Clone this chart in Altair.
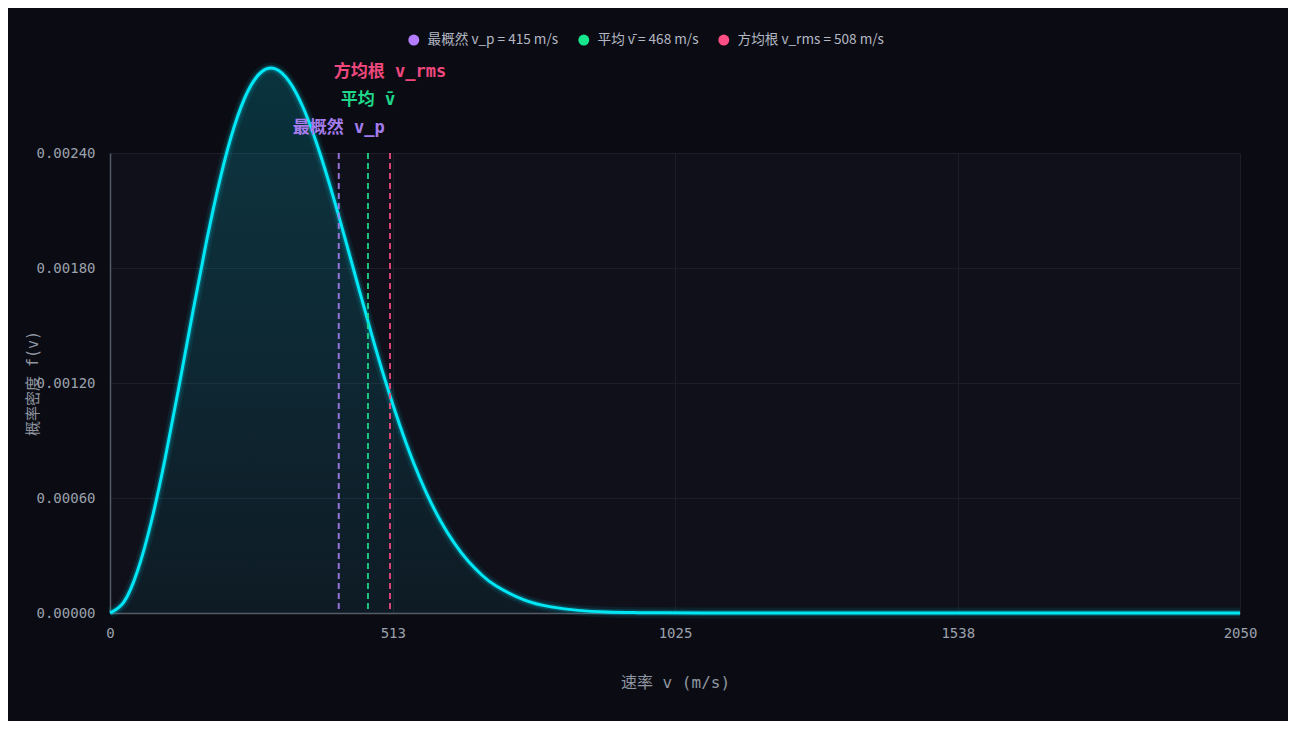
import altair as alt
import pandas as pd

# Curve: speed (m/s) and probability density f(v)
speed = [0, 25, 50, 75, 100, 125, 150, 175, 200, 225, 250, 275, 300, 325, 350,
         375, 400, 425, 450, 475, 500, 525, 550, 575, 600, 625, 650, 675, 700,
         750, 800, 850, 900, 950, 1000, 1100, 1200, 1300, 1400, 1500, 1600,
         1700, 1800, 1900, 2000, 2050]
density = [0.0, 0.0000562, 0.0002201, 0.0004773, 0.0008062, 0.001179, 0.001566,
           0.001938, 0.002268, 0.002534, 0.002722, 0.002824, 0.002839, 0.002774,
           0.002640, 0.002450, 0.002221, 0.001969, 0.001708, 0.001450, 0.001207,
           0.000986, 0.000789, 0.000620, 0.000479, 0.000363, 0.000270, 0.000197,
           0.000142, 0.0000696, 0.0000319, 0.0000137, 0.0000055, 0.0000021,
           0.0000007, 0.0, 0.0, 0.0, 0.0, 0.0, 0.0, 0.0, 0.0, 0.0, 0.0, 0.0]

# Characteristic speeds
line_values = [415, 468, 508]
legend_labels = ["最概然 v_p = 415 m/s", "平均 v\u0304 = 468 m/s", "方均根 v_rms = 508 m/s"]
annot_texts = ["最概然 v_p", "平均 v\u0304", "方均根 v_rms"]
line_colors = ["#a47cec", "#1fd88a", "#f0487e"]
legend_colors = ["#b47cff", "#16e68e", "#ff4d86"]

x_ticks = [0, 513, 1025, 1538, 2050]
y_ticks = [0.0, 0.0006, 0.0012, 0.0018, 0.0024]

curve = pd.DataFrame({"v": speed, "f": density})
lines = pd.DataFrame({"v": line_values, "label": legend_labels, "annot": annot_texts})

MONO = "DejaVu Sans Mono, Noto Sans CJK SC, monospace"
SANS = "Noto Sans CJK SC, Noto Sans, sans-serif"

xscale = alt.Scale(domain=[0, 2050], nice=False, zero=False)
yscale = alt.Scale(domain=[0, 0.0024], nice=False)

x_enc = alt.X("v:Q", scale=xscale, axis=alt.Axis(
    values=x_ticks, format="d", title="速率 v (m/s)", labelFont=MONO, labelFontSize=14,
    labelColor="#9ba1ad", ticks=False, labelPadding=13, grid=True,
    gridColor="#1b1e27", domainColor="#555a66", domainWidth=1.5,
    labelFlush=False, labelOverlap=False, titleFont=MONO, titleFontSize=16,
    titleFontWeight="normal", titleColor="#8f95a1", titleX=565, titleY=69,
    titleBaseline="middle", titleAlign="center"))
y_enc = alt.Y("f:Q", scale=yscale, axis=alt.Axis(
    values=y_ticks, format=".5f", title="概率密度 f(v)", labelFont=MONO,
    labelFontSize=14, labelColor="#9ba1ad", ticks=False, labelPadding=15,
    grid=True, gridColor="#1b1e27", domainColor="#555a66", domainWidth=1.5,
    titleFont=MONO, titleFontSize=15, titleFontWeight="normal",
    titleColor="#8f95a1", titleX=-78, titleY=230, titleAngle=-90,
    titleBaseline="middle", titleAlign="center"))

base = alt.Chart(curve)
INTERP = "natural"

area = base.mark_area(
    interpolate=INTERP,
    color=alt.Gradient(
        gradient="linear",
        stops=[alt.GradientStop(color="rgba(0,229,255,0.18)", offset=0),
               alt.GradientStop(color="rgba(0,229,255,0.05)", offset=1)],
        x1=1, x2=1, y1=0, y2=1),
).encode(x=x_enc, y=y_enc)

glow1 = base.mark_line(interpolate=INTERP, color="#00e5ff",
                       strokeWidth=11, opacity=0.08).encode(x="v:Q", y="f:Q")
glow2 = base.mark_line(interpolate=INTERP, color="#00e5ff",
                       strokeWidth=6, opacity=0.2).encode(x="v:Q", y="f:Q")
curve_line = base.mark_line(interpolate=INTERP, color="#00e8f6",
                            strokeWidth=3).encode(x="v:Q", y="f:Q")

rule_layers = []
annot_offsets = [-25, -53, -81]
annots = []
for i in range(3):
    sub = alt.Chart(lines.iloc[[i]])
    rule_layers.append(
        sub.mark_rule(strokeDash=[6, 4], strokeWidth=2, opacity=0.9,
                      color=line_colors[i]).encode(x="v:Q")
    )
    annots.append(
        sub.mark_text(
            font=MONO, fontSize=17, fontWeight="bold", color=line_colors[i],
            align="center", baseline="middle",
        ).encode(x="v:Q", y=alt.value(annot_offsets[i]), text="annot:N")
    )

legend_layer = alt.Chart(lines).mark_point(
    filled=True, shape="circle", size=0, opacity=0).encode(
    x="v:Q",
    y=alt.value(0),
    color=alt.Color("label:N",
                    scale=alt.Scale(domain=legend_labels, range=legend_colors),
                    legend=alt.Legend(
                        title=None, orient="none", legendX=297, legendY=-120,
                        direction="horizontal", symbolType="circle", symbolSize=120,
                        symbolStrokeWidth=0, symbolOpacity=1, labelFont=SANS,
                        labelFontSize=13.6, labelColor="#b4b8c4", columnPadding=18,
                        labelOffset=7, padding=0)),
)

chart = alt.layer(area, glow1, glow2, curve_line, *rule_layers, *annots, legend_layer).properties(
    width=1130, height=460,
    padding={"left": 102, "top": 145, "right": 48, "bottom": 108},
    autosize=alt.AutoSizeParams(type="none"),
    background="#0b0c13",
).configure_view(fill="#0f1019", stroke=None)

chart.save("out.html", embed_options={"renderer": "svg", "actions": False})
